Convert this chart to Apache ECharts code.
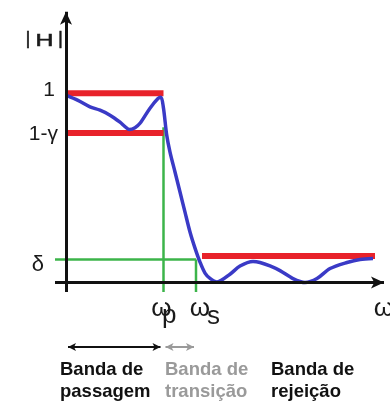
<!DOCTYPE html>
<html><head><meta charset="utf-8">
<script src="https://cdn.jsdelivr.net/npm/echarts@6/dist/echarts.min.js"></script>
<style>html,body{margin:0;padding:0;background:#fff}#c{width:390px;height:407px}</style>
</head><body><div id="c"></div>
<script>
// Frequency response curve
const freq = [0, 1.2, 2.4, 3.4, 4.4, 5.4, 5.9, 6.35, 6.9, 7.4, 8.4, 9.2, 9.5, 9.75, 10.07, 10.4, 10.9, 11.4, 11.9, 12.4, 12.9, 13.4, 13.9, 14.4, 15.1, 16.4, 17.4, 18.7, 19.4, 20.4, 21.4, 22.7, 23.9, 25.1, 26.4, 28.1, 29.4, 30.7];
const mag  = [0.99, 0.962, 0.928, 0.91, 0.884, 0.847, 0.824, 0.808, 0.818, 0.841, 0.921, 0.972, 0.978, 0.92, 0.779, 0.689, 0.584, 0.478, 0.372, 0.267, 0.182, 0.108, 0.05, 0.022, 0.003, 0.044, 0.087, 0.111, 0.106, 0.088, 0.063, 0.021, 0.0, 0.021, 0.074, 0.106, 0.122, 0.127];
// Specification levels
const passUpper = 1;
const passLower = 0.79;
const stopLevel = 0.14;
const delta = 0.122;
const wp = 9.75;
const ws = 13.0;
const stopStart = 13.6;
const stopEnd = 30.9;
const wpLineTop = 0.82;
// Labels
const yTickLabels = ['1', '1-γ', 'δ'];
const yAxisName = ['|', 'H', '|'];
const omega = 'ω';
const subP = 'p', subS = 's';
const bandNames = ['Banda de\npassagem', 'Banda de\ntransição', 'Banda de\nrejeição'];

const xMin = -1.1, xMax = 32.4, yMin = -0.05, yMax = 1.45;
const RED = '#e8222a', GREEN = '#3cb44a', BLUE = '#3a3ac6', BLACK = '#111', GREY = '#9a9a9a';

const chart = echarts.init(document.getElementById('c'), null, {renderer: 'canvas'});

function seg(p1, p2, color, width) {
  return {type: 'line', data: [p1, p2], showSymbol: false, silent: true, clip: false,
    lineStyle: {color: color, width: width, cap: 'butt'}, animation: false, z: 2};
}
const hiddenAxis = {show: true, axisLine: {show: false}, axisTick: {show: false}, axisLabel: {show: false}, splitLine: {show: false}};

const option = {
  backgroundColor: '#ffffff',
  animation: false,
  grid: [
    {left: 55, top: 8, width: 335, height: 284},
    {left: 55, top: 337, width: 335, height: 20}
  ],
  xAxis: [
    Object.assign({type: 'value', min: xMin, max: xMax, gridIndex: 0}, hiddenAxis),
    Object.assign({type: 'value', min: xMin, max: xMax, gridIndex: 1}, hiddenAxis)
  ],
  yAxis: [
    Object.assign({type: 'value', min: yMin, max: yMax, gridIndex: 0}, hiddenAxis),
    Object.assign({type: 'value', min: -1, max: 1, gridIndex: 1}, hiddenAxis)
  ],
  series: [
    seg([wp, yMin], [wp, wpLineTop], GREEN, 2.5),
    seg([ws, yMin], [ws, delta], GREEN, 2.5),
    seg([xMin, delta], [ws, delta], GREEN, 2.5),
    seg([0, passUpper], [wp, passUpper], RED, 6),
    seg([0, passLower], [wp, passLower], RED, 6),
    seg([stopStart, stopLevel], [stopEnd, stopLevel], RED, 6),
    {type: 'line', data: [], silent: true, z: 3,
      markLine: {silent: true, animation: false, symbol: ['none', 'arrow'], symbolSize: [9, 13],
        label: {show: false}, emphasis: {disabled: true},
        lineStyle: {color: BLACK, width: 3, type: 'solid'},
        data: [
          [{coord: [xMin, 0]}, {coord: [31.8, 0]}],
          [{coord: [0, yMin]}, {coord: [0, 1.43]}]
        ]}},
    {type: 'line', data: freq.map((f, i) => [f, mag[i]]), showSymbol: false, silent: true,
      smooth: 0.3,
      lineStyle: {color: BLUE, width: 3.5, join: 'round'}, z: 4},
    {type: 'line', xAxisIndex: 1, yAxisIndex: 1, data: [], silent: true,
      markLine: {silent: true, animation: false, symbol: ['arrow', 'arrow'], symbolSize: [6, 8],
        label: {show: false}, emphasis: {disabled: true},
        lineStyle: {color: BLACK, width: 2, type: 'solid'},
        data: [
          [{coord: [0.2, 0]}, {coord: [wp - 0.3, 0]}],
          [{coord: [wp + 0.2, 0], lineStyle: {color: GREY}}, {coord: [ws - 0.2, 0], lineStyle: {color: GREY}}],
          [{coord: [ws + 0.2, 0], symbol: 'arrow'}, {coord: [xMax + 2, 0], symbol: 'none'}]
        ]}}
  ]
};
chart.setOption(option);

const P = (x, y) => chart.convertToPixel({gridIndex: 0}, [x, y]);
const x0 = P(0, 0)[0], y0 = P(0, 0)[1];
const pxWp = P(wp, 0)[0], pxWs = P(ws, 0)[0];
const FONT = '"Liberation Sans", Arial, sans-serif';
const txt = (text, x, y, size, align, vAlign, extra, styleExtra) => Object.assign({type: 'text', x: x, y: y, silent: true,
  style: Object.assign({text: text, font: size + 'px ' + FONT, fill: '#1a1a1a', align: align, verticalAlign: vAlign}, styleExtra || {})}, extra || {});

const thick = {stroke: '#1a1a1a', lineWidth: 0.5};
const graphics = [
  txt(yAxisName[0], x0 - 38, 39, 19, 'center', 'middle', null, thick),
  txt(yAxisName[1], x0 - 21.5, 41, 16.5, 'center', 'middle', {scaleX: 1.5}, thick),
  txt(yAxisName[2], x0 - 5.5, 39, 19, 'center', 'middle', null, thick),
  txt(yTickLabels[0], x0 - 11, P(0, passUpper)[1] - 3, 21, 'right', 'middle'),
  txt(yTickLabels[1], x0 - 8, P(0, passLower)[1] + 1, 21, 'right', 'middle'),
  txt(yTickLabels[2], x0 - 22, P(0, delta)[1] + 6, 22, 'right', 'middle'),
  txt(omega, pxWp - 2, y0 + 26, 26, 'center', 'middle'),
  txt(subP, pxWp - 1.5, y0 + 33, 26, 'left', 'middle'),
  txt(omega, pxWs + 4, y0 + 26, 26, 'center', 'middle'),
  txt(subS, pxWs + 11, y0 + 34, 26, 'left', 'middle'),
  txt(omega, 384, y0 + 26, 26, 'center', 'middle')
];
const bandX = [x0 - 6, pxWp + 1.5, pxWs + 75];
const bandColors = ['#111', GREY, '#111'];
bandNames.forEach((t, i) => {
  graphics.push({type: 'text', x: bandX[i], y: 359, silent: true,
    style: {text: t, font: 'bold 18.5px ' + FONT, fill: bandColors[i], align: 'left', verticalAlign: 'top', lineHeight: 22}});
});
chart.setOption({graphic: graphics});
</script>
</body></html>
